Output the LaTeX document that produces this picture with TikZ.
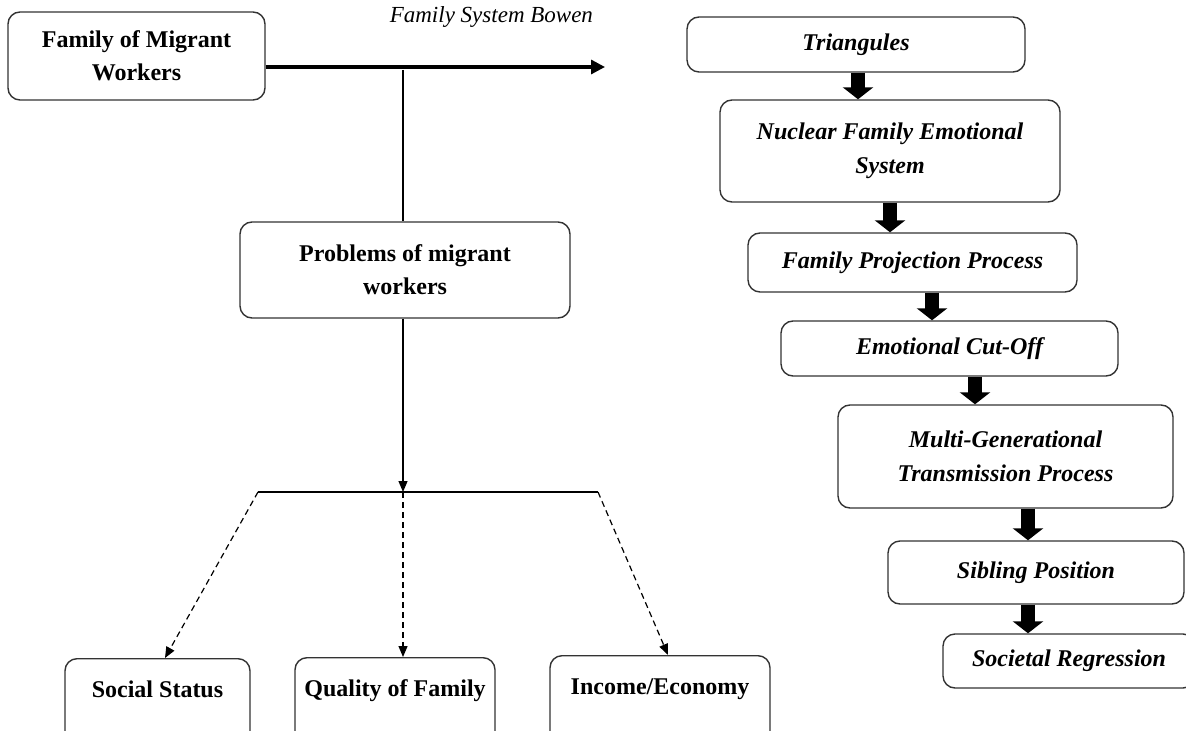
\documentclass[tikz,border=0pt]{standalone}
\usepackage{fontspec}
\setmainfont{Liberation Serif}
\usetikzlibrary{arrows.meta}
\begin{document}
\begin{tikzpicture}[x=0.5pt,y=-0.5pt,
  box/.style={draw=black!80, line width=0.7pt, rounded corners=6pt, align=center, inner sep=0pt},
  lbox/.style={box, font=\fontsize{12}{16.5}\selectfont\bfseries},
  rbox/.style={box, font=\fontsize{12}{17}\selectfont\bfseries\itshape},
  bbox/.style={lbox, anchor=north, text height=19.5pt, text depth=40pt},
  blk/.style={line width=7pt, -{Triangle[width=15pt,length=6pt]}},
  thinln/.style={line width=0.6pt},
  tip/.style={-{Triangle[width=4.5pt,length=5.5pt]}},
  dsh/.style={thinln, dash pattern=on 3pt off 2pt, tip}]
\clip (0,0) rectangle (1186,731);
\fill[white] (0,0) rectangle (1186,731);
% left side
\node[lbox, minimum width=128.5pt, minimum height=44pt] (fam) at (136.5,56) {Family of Migrant\\Workers};
\node[lbox, minimum width=165pt, minimum height=48pt] (prob) at (405,270) {Problems of migrant\\workers};
\coordinate (aend) at (605,67);
\draw[line width=1.6pt, -{Triangle[width=7pt,length=7pt]}] (fam.east |- aend) -- (aend);
\node[anchor=east, font=\fontsize{11.5}{13}\selectfont\itshape] (bowen) at (600,17) {Family System Bowen};
\coordinate (jtop) at (403,70);
\draw[thinln] (jtop) -- (jtop |- prob.north);
\coordinate (hm) at (403,492);
\coordinate (hl) at (258,492);
\coordinate (hr) at (598,492);
\draw[thinln, tip] (hm |- prob.south) -- (hm);
\draw[thinln] (hl) -- (hr);
\node[bbox, minimum width=92.5pt] (ss) at (157.5,658) {Social Status};
\node[bbox, minimum width=100pt] (qf) at (395,657) {Quality of Family};
\node[bbox, minimum width=110pt] (ie) at (660,655) {Income/Economy};
\draw[dsh] (hl) -- (165,0 |- ss.north);
\draw[dsh] (hm) -- (403,0 |- qf.north);
\draw[dsh] (hr) -- (668,0 |- ie.north);
% right side
\node[rbox, minimum width=169pt, minimum height=27.5pt] (tri) at (856,44.5) {Triangules};
\node[rbox, minimum width=170pt, minimum height=51pt] (nuc) at (890,151) {Nuclear Family Emotional\\System};
\node[rbox, minimum width=164.5pt, minimum height=29.5pt] (fpp) at (912.5,262.5) {Family Projection Process};
\node[rbox, minimum width=168.5pt, minimum height=27.5pt] (eco) at (949.5,348.5) {Emotional Cut-Off};
\node[rbox, minimum width=167.5pt, minimum height=51.5pt] (mgt) at (1005.5,456.5) {Multi-Generational\\Transmission Process};
\node[rbox, minimum width=148pt, minimum height=31.5pt] (sib) at (1036,572.5) {Sibling Position};
\node[rbox, minimum width=126pt, minimum height=27pt] (soc) at (1069,661) {Societal Regression};
\draw[blk] (858,0 |- tri.south) -- (858,0 |- nuc.north);
\draw[blk] (890,0 |- nuc.south) -- (890,0 |- fpp.north);
\draw[blk] (932,0 |- fpp.south) -- (932,0 |- eco.north);
\draw[blk] (975,0 |- eco.south) -- (975,0 |- mgt.north);
\draw[blk] (1028,0 |- mgt.south) -- (1028,0 |- sib.north);
\draw[blk] (1028,0 |- sib.south) -- (1028,0 |- soc.north);
\end{tikzpicture}
\end{document}
